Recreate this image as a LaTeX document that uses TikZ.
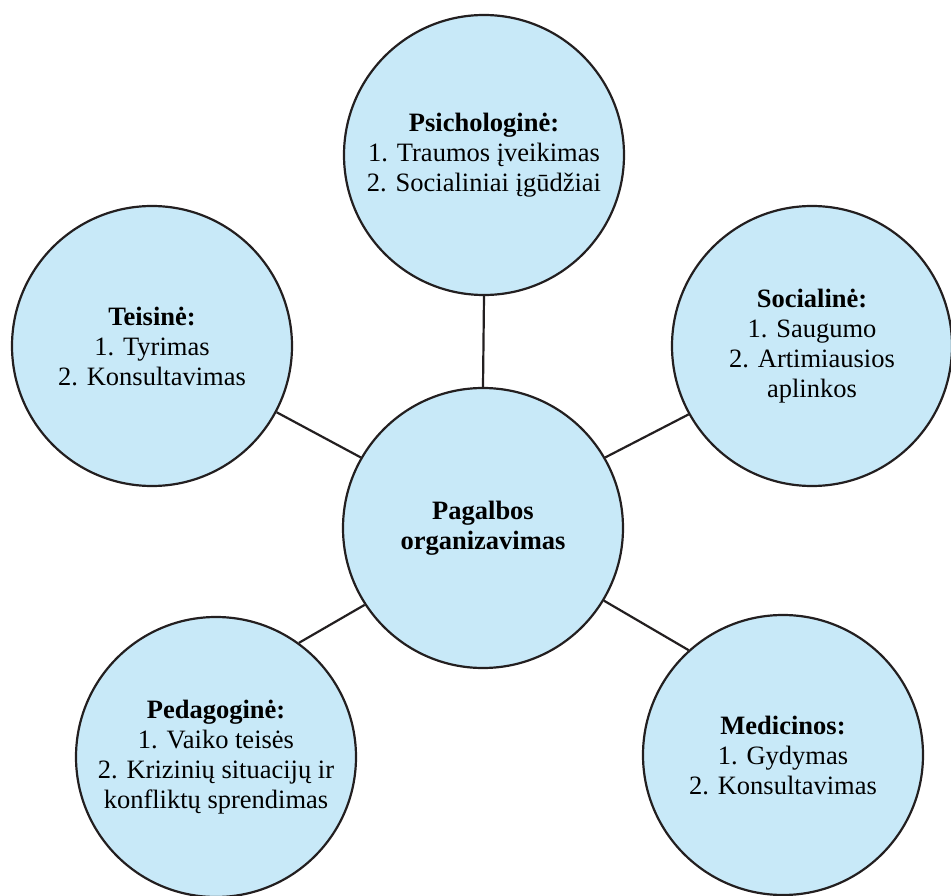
\documentclass[tikz,border=0pt]{standalone}
\usepackage{fontspec}
\setmainfont{Liberation Serif}
\usepackage{tikz}
\usetikzlibrary{
    shapes.geometric,
    positioning,
    calc
}
\definecolor{circfill}{RGB}{200,233,248}
\definecolor{circline}{RGB}{35,31,32}
\tikzset{
    area/.style = {
        circle,
        draw=circline,
        line width=2.2pt,
        fill=circfill,
        minimum size=280pt,
        inner sep=0pt,
        align=center,
        font=\fontsize{26.5}{30}\selectfont
    },
    hub/.style = {
        area,
        font=\fontsize{26.5}{30}\selectfont\bfseries
    },
    link/.style = {
        line width=2.2pt,
        draw=circline
    }
}

\begin{document}
\begin{tikzpicture}[x=1pt,y=-1pt]
\useasboundingbox (0,0) rectangle (951,896);

\node (center) [hub] at (483,528) {Pagalbos\\organizavimas};
\node (psych) [area] at (484,155) {\textbf{Psichologinė:}\\1. Traumos įveikimas\\2. Socialiniai įgūdžiai};
\node (law) [area] at (152,346) {\textbf{Teisinė:}\\1. Tyrimas\\2. Konsultavimas};
\node (social) [area] at (812,346) {\textbf{Socialinė:}\\1. Saugumo\\2. Artimiausios\\aplinkos};
\node (pedag) [area] at (216,757) {\textbf{Pedagoginė:}\\1. Vaiko teisės\\2. Krizinių situacijų ir\\konfliktų sprendimas};
\node (medic) [area] at (783,755) {\textbf{Medicinos:}\\1. Gydymas\\2. Konsultavimas};

\draw [link] (center.90) -- (psych.270);
\draw [link] (center.150) -- (law.332);
\draw [link] (center.30) -- (social.209);
\draw [link] (center.213) -- (pedag.54);
\draw [link] (center.329) -- (medic.132);
\end{tikzpicture}
\end{document}
